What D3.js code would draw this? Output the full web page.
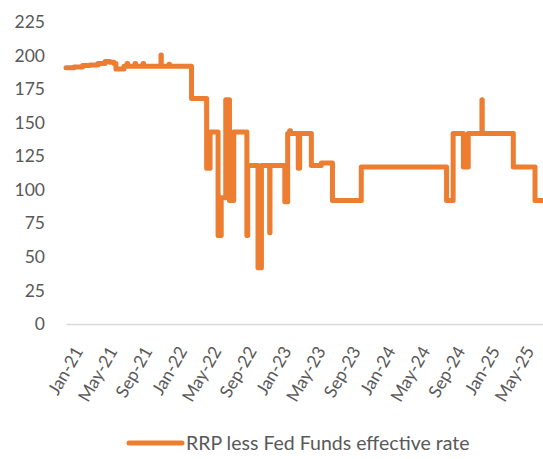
<html>

<head>
    <!--
            D3 Data Driven Documents - from the CDN
        -->
    <script src="https://cdn.jsdelivr.net/npm/d3@7"></script>
    <style>
        body { margin: 0; background: #ffffff; }
        text { font-family: Lato, "Open Sans", sans-serif; fill: #595959; }
    </style>
</head>

<body>
    <script>

        /*
         * data: the days on which the spread changes level (step chart)
         * each value holds until the next date
         */
        var changeDates = [
            "2021-01-01", "2021-01-29", "2021-02-28", "2021-03-26", "2021-04-23",
            "2021-05-18", "2021-06-04", "2021-06-18", "2021-06-25", "2021-07-16",
            "2021-07-23", "2021-08-03", "2021-08-05", "2021-08-31", "2021-09-02",
            "2021-09-28", "2021-09-30", "2021-11-30", "2021-12-01", "2021-12-28",
            "2021-12-30", "2022-03-17", "2022-05-09", "2022-05-21", "2022-06-18",
            "2022-06-29", "2022-07-15", "2022-07-28", "2022-08-12", "2022-09-27",
            "2022-09-30", "2022-11-05", "2022-11-17", "2022-12-16", "2022-12-17",
            "2023-02-07", "2023-02-17", "2023-02-24", "2023-02-27", "2023-03-26",
            "2023-03-31", "2023-05-11", "2023-06-15", "2023-07-24", "2023-11-02",
            "2024-08-27", "2024-09-19", "2024-10-25", "2024-11-11", "2024-12-29",
            "2024-12-30", "2025-04-18", "2025-07-03", "2025-07-31"
        ];

        var changeValues = [
            191, 191.5, 192.5, 193, 194,
            195.5, 195, 194, 190, 190,
            192, 194, 192, 194, 192,
            194, 192, 200.5, 192, 193.5,
            192, 168, 116, 143, 66,
            94, 167, 92, 143, 66,
            118, 42, 118, 68, 118,
            91, 142, 144, 142, 116,
            142, 118, 120, 92, 117,
            92, 142, 117, 142, 167,
            142, 117, 92, 92
        ];

        // y axis tick values
        var yTicks = [0, 25, 50, 75, 100, 125, 150, 175, 200, 225];

        // x axis labels, every 4 months
        var xTickDates = [
            "2021-01-01", "2021-05-01", "2021-09-01", "2022-01-01", "2022-05-01",
            "2022-09-01", "2023-01-01", "2023-05-01", "2023-09-01", "2024-01-01",
            "2024-05-01", "2024-09-01", "2025-01-01", "2025-05-01"
        ];

        var seriesName = "RRP less Fed Funds effective rate";

        // core settings - the window is 543 x 459
        var width = 543, height = 459;
        var plotLeft = 66, plotRight = 543, plotTop = 22, plotBottom = 324;

        var parseTime = d3.timeParse("%Y-%m-%d");

        // pair up dates & values
        var data = changeDates.map(function (d, i) {
            return { date: parseTime(d), value: changeValues[i] };
        });

        var svg = d3.select("body")
            .append("svg")
            .attr("width", width)
            .attr("height", height);

        /*
         * X axis - time, from first day to end of data
         */
        var x = d3.scaleTime()
            .domain([parseTime("2021-01-01"), parseTime("2025-07-31")])
            .range([plotLeft, plotRight]);

        /*
         * Y axis - linear 0 to 225
         */
        var y = d3.scaleLinear()
            .domain([0, 225])
            .range([plotBottom, plotTop]);

        // y labels, no axis line, no gridlines
        var yAxisGroup = svg.append("g")
            .attr("transform", "translate(" + plotLeft + ",0)");

        d3.axisLeft(y)
            .tickValues(yTicks)
            .tickSize(0)
            .tickPadding(21)
            (yAxisGroup);

        yAxisGroup.select(".domain").remove();
        yAxisGroup.selectAll(".tick text")
            .attr("font-size", 17.5)
            .attr("fill", "#595959");

        // horizontal axis line at zero
        var xAxisGroup = svg.append("g")
            .attr("transform", "translate(0," + plotBottom + ")");

        d3.axisBottom(x)
            .tickValues(xTickDates.map(parseTime))
            .tickSize(0)
            .tickSizeOuter(0)
            .tickFormat(d3.timeFormat("%b-%y"))
            (xAxisGroup);

        xAxisGroup.select(".domain")
            .attr("stroke", "#d9d9d9")
            .attr("stroke-width", 1.5);

        /*
         * rotate x labels, text ends at the tick
         */
        xAxisGroup.selectAll(".tick text")
            .attr("font-size", 17.5)
            .attr("fill", "#595959")
            .attr("text-anchor", "end")
            .attr("x", 0)
            .attr("y", 0)
            .attr("dy", "0.35em")
            .attr("transform", "translate(12,24) rotate(-60)");

        /*
         * the step line
         */
        var line = d3.line()
            .curve(d3.curveStepAfter)
            .x(function (d) { return x(d.date); })
            .y(function (d) { return y(d.value); });

        svg.append("path")
            .datum(data)
            .attr("fill", "none")
            .attr("stroke", "#ed7d31")
            .attr("stroke-width", 5)
            .attr("stroke-linejoin", "round")
            .attr("stroke-linecap", "round")
            .attr("d", line);

        /*
         * legend underneath
         */
        var legend = svg.append("g")
            .attr("transform", "translate(129,443)");

        legend.append("line")
            .attr("x1", 0)
            .attr("x2", 53)
            .attr("stroke", "#ed7d31")
            .attr("stroke-width", 5)
            .attr("stroke-linecap", "round");

        legend.append("text")
            .attr("x", 57)
            .attr("dy", "0.35em")
            .attr("font-size", 19.5)
            .text(seriesName);

    </script>
</body>

</html>
